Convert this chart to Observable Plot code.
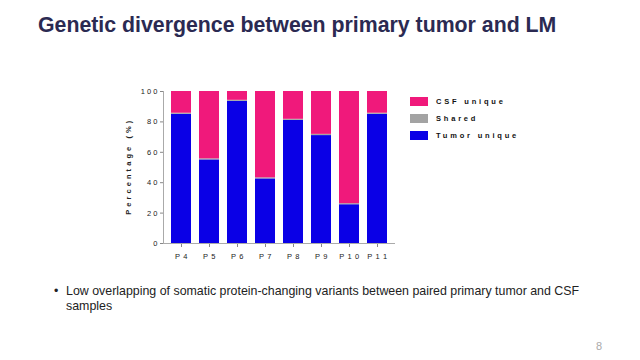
<!DOCTYPE html>
<html>
<head>
<meta charset="utf-8">
<script src="https://cdn.jsdelivr.net/npm/d3@7"></script>
<script src="https://cdn.jsdelivr.net/npm/@observablehq/plot@0.6"></script>
<style>
  html, body { margin: 0; padding: 0; background: #fff; width: 640px; height: 360px; overflow: hidden; position: relative; font-family: "Liberation Sans", Arial, sans-serif; }
  #title { position: absolute; left: 38px; top: 13px; font-size: 21.3px; font-weight: bold; color: #2b2a52; white-space: nowrap; }
  #chart { position: absolute; left: 100px; top: 70px; }
  #legend { position: absolute; left: 410px; top: 93px; }
  #bullet { position: absolute; left: 54px; top: 284px; font-size: 12.4px; color: #222; line-height: 15px; }
  #bullet .dot { position: absolute; left: 0; top: 0; }
  #bullet .txt { position: absolute; left: 12px; top: 0; white-space: nowrap; }
  #page { position: absolute; left: 596px; top: 340px; font-size: 11px; color: #aaa; }
  #chart svg text { font-family: "Liberation Sans", Arial, sans-serif; }
  .lgrow { display: flex; align-items: center; height: 17px; font-size: 7.5px; font-weight: bold; letter-spacing: 2.8px; color: #111; }
  .lgrow svg { margin-right: 8px; }
</style>
</head>
<body>
<div id="title">Genetic divergence between primary tumor and LM</div>
<div id="chart"></div>
<div id="legend"></div>
<div id="bullet"><span class="dot">•</span><span class="txt">Low overlapping of somatic protein-changing variants between paired primary tumor and CSF<br>samples</span></div>
<div id="page">8</div>
<script>
const patients = ["P4", "P5", "P6", "P7", "P8", "P9", "P10", "P11"];
const tumorUnique = [85, 55, 93.5, 42.5, 81, 71, 25.5, 85];
const shared = [0.7, 0.7, 0.7, 0.7, 0.7, 0.8, 0.7, 0.7];
const csfUnique = [14.3, 44.3, 5.8, 56.8, 18.3, 28.2, 73.8, 14.3];
const categories = ["CSF unique", "Shared", "Tumor unique"];
const colors = ["#f0197b", "#a3a3a3", "#0a00e6"];
const yTicks = [0, 20, 40, 60, 80, 100];

const spaced = s => s.split("").join(" ");

const data = [];
patients.forEach((p, i) => {
  data.push({patient: p, cat: "Tumor unique", value: tumorUnique[i]});
  data.push({patient: p, cat: "Shared", value: shared[i]});
  data.push({patient: p, cat: "CSF unique", value: csfUnique[i]});
});

const plot = Plot.plot({
  width: 300,
  height: 200,
  marginLeft: 63,
  marginTop: 21,
  marginBottom: 27,
  marginRight: 5,
  style: {fontSize: "7.5px", color: "#333"},
  x: {domain: patients, padding: 0.27, label: null},
  y: {domain: [0, 100], label: null},
  color: {domain: categories, range: colors},
  marks: [
    Plot.barY(data, Plot.stackY({order: categories.slice().reverse(), x: "patient", y: "value", fill: "cat"})),
    Plot.axisY({ticks: yTicks, tickFormat: d => spaced(String(d)), tickSize: 3, tickPadding: 3, stroke: "#888",
      label: spaced("Percentage (%)"), labelAnchor: "center", labelArrow: false, labelOffset: 38, fill: "#222"}),
    Plot.axisX({tickFormat: d => spaced(d), tickSize: 4, tickPadding: 6, stroke: "#888", fill: "#222"}),
    Plot.frame({anchor: "left", stroke: "#aaa"}),
    Plot.ruleY([0], {stroke: "#aaa"})
  ]
});
document.getElementById("chart").appendChild(plot);

const svg = d3.select(plot);
svg.selectAll('[aria-label="y-axis label"] text').attr("font-weight", "bold").style("letter-spacing", "0.5px");
svg.selectAll('[aria-label="x-axis tick label"] text').style("letter-spacing", "0.6px");

const lg = d3.select("#legend");
categories.forEach((c, i) => {
  const row = lg.append("div").attr("class", "lgrow");
  row.append("svg").attr("width", 18).attr("height", 9)
    .append("rect").attr("width", 18).attr("height", 9).attr("fill", colors[i]);
  row.append("span").text(c);
});
</script>
</body>
</html>
